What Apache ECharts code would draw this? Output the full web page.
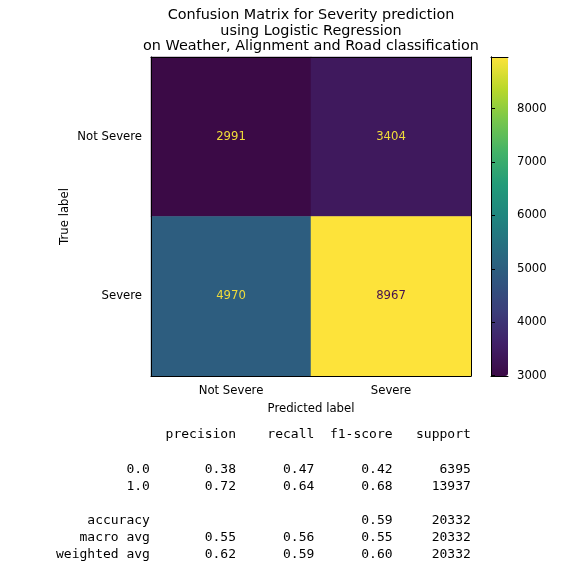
<!DOCTYPE html>
<html>
<head>
<meta charset="utf-8">
<script src="https://cdn.jsdelivr.net/npm/echarts@6/dist/echarts.min.js"></script>
<style>
html,body{margin:0;padding:0;background:#fff;}
#chart{width:566px;height:577px;}
</style>
</head>
<body>
<div id="chart"></div>
<script>
// ---- data ----
var predictedLabels = ['Not Severe', 'Severe'];
var trueLabels = ['Not Severe', 'Severe'];
var rowNotSevere = [2991, 3404];
var rowSevere = [4970, 8967];
var colorbarTicks = [3000, 4000, 5000, 6000, 7000, 8000];

var reportHeaders = ['precision', 'recall', 'f1-score', 'support'];
var reportClasses = ['0.0', '1.0'];
var reportPrecision = [0.38, 0.72];
var reportRecall = [0.47, 0.64];
var reportF1 = [0.42, 0.68];
var reportSupport = [6395, 13937];
var reportAccuracy = 0.59;
var reportTotal = 20332;
var macroAvg = [0.55, 0.56, 0.55];
var weightedAvg = [0.62, 0.59, 0.60];

var titleLines = ['Confusion Matrix for Severity prediction', 'using Logistic Regression', 'on Weather, Alignment and Road classification'];

// ---- build ----
var matrix = [rowNotSevere, rowSevere];
var all = rowNotSevere.concat(rowSevere);
var vmin = Math.min.apply(null, all), vmax = Math.max.apply(null, all);
var thresh = (vmin + vmax) / 2;
var viridis = ['#3b0a46','#412068','#3b3d7a','#30567f','#276d80','#1f857f','#229b79','#42b268','#76c64c','#b9d82a','#fde33a'];

var heatData = [];
for (var r = 0; r < matrix.length; r++) {
  for (var c = 0; c < matrix[r].length; c++) {
    var v = matrix[r][c];
    heatData.push({value: [c, r, v], label: {color: v < thresh ? '#f0dc3a' : '#44104f'}});
  }
}

function pad(s, n) { s = String(s); while (s.length < n) s = ' ' + s; return s; }
var W = 12;
var lines = [];
lines.push(pad('', W) + ' ' + reportHeaders.map(function(h){return ' ' + pad(h, 9);}).join(''));
lines.push('');
for (var i = 0; i < reportClasses.length; i++) {
  lines.push(pad(reportClasses[i], W) + ' ' +
    ' ' + pad(reportPrecision[i].toFixed(2), 9) +
    ' ' + pad(reportRecall[i].toFixed(2), 9) +
    ' ' + pad(reportF1[i].toFixed(2), 9) +
    ' ' + pad(reportSupport[i], 9));
}
lines.push('');
lines.push(pad('accuracy', W) + ' ' + ' ' + pad('', 9) + ' ' + pad('', 9) + ' ' + pad(reportAccuracy.toFixed(2), 9) + ' ' + pad(reportTotal, 9));
lines.push(pad('macro avg', W) + ' ' + macroAvg.map(function(x){return ' ' + pad(x.toFixed(2), 9);}).join('') + ' ' + pad(reportTotal, 9));
lines.push(pad('weighted avg', W) + ' ' + weightedAvg.map(function(x){return ' ' + pad(x.toFixed(2), 9);}).join('') + ' ' + pad(reportTotal, 9));
var reportText = lines.join('\n');

var FONT = 'DejaVu Sans';
var FS = 11.7;

var chart = echarts.init(document.getElementById('chart'), null, {renderer: 'canvas'});
chart.setOption({
  animation: false,
  backgroundColor: '#fff',
  title: {
    text: titleLines.join('\n'),
    left: 311, top: 8, textAlign: 'center', padding: 0,
    textStyle: {fontFamily: FONT, fontSize: 14.4, fontWeight: 'normal', color: '#000', lineHeight: 15.4}
  },
  grid: [
    {left: 151, top: 57, width: 320, height: 319},
    {left: 491, top: 57, width: 17, height: 319}
  ],
  xAxis: [
    {type: 'category', gridIndex: 0, data: predictedLabels, position: 'bottom', z: 10,
     name: 'Predicted label', nameLocation: 'middle', nameGap: 27, nameMoveOverlap: false,
     nameTextStyle: {fontFamily: FONT, fontSize: FS, color: '#000'},
     axisLine: {lineStyle: {color: '#000', width: 1}},
     axisTick: {alignWithLabel: true, length: 4, lineStyle: {color: '#000'}},
     axisLabel: {fontFamily: FONT, fontSize: FS, color: '#000', margin: 8.5},
     splitLine: {show: false}},
    {type: 'category', gridIndex: 0, data: predictedLabels, position: 'top', z: 10,
     axisLine: {lineStyle: {color: '#000', width: 1}}, axisTick: {show: false}, axisLabel: {show: false}},
    {type: 'value', gridIndex: 1, min: 0, max: 1, position: 'bottom', z: 10,
     axisLine: {lineStyle: {color: '#000', width: 1}}, axisTick: {show: false}, axisLabel: {show: false}, splitLine: {show: false}},
    {type: 'value', gridIndex: 1, min: 0, max: 1, position: 'top', z: 10,
     axisLine: {lineStyle: {color: '#000', width: 1}}, axisTick: {show: false}, axisLabel: {show: false}, splitLine: {show: false}}
  ],
  yAxis: [
    {type: 'category', gridIndex: 0, data: trueLabels, inverse: true, position: 'left', z: 10,
     name: 'True label', nameLocation: 'middle', nameGap: 80, nameRotate: 90, nameMoveOverlap: false,
     nameTextStyle: {fontFamily: FONT, fontSize: FS, color: '#000'},
     axisLine: {lineStyle: {color: '#000', width: 1}},
     axisTick: {alignWithLabel: true, length: 4, lineStyle: {color: '#000'}},
     axisLabel: {fontFamily: FONT, fontSize: FS, color: '#000', margin: 9},
     splitLine: {show: false}},
    {type: 'category', gridIndex: 0, data: trueLabels, inverse: true, position: 'right', z: 10,
     axisLine: {lineStyle: {color: '#000', width: 1}}, axisTick: {show: false}, axisLabel: {show: false}},
    {type: 'value', gridIndex: 1, min: vmin, max: vmax, position: 'right', z: 10,
     axisLine: {show: true, lineStyle: {color: '#000', width: 1}},
     axisTick: {show: true, length: 4, lineStyle: {color: '#000'}, customValues: colorbarTicks},
     axisLabel: {fontFamily: FONT, fontSize: FS, color: '#000', margin: 9, customValues: colorbarTicks,
       formatter: function(v){ return String(v); }},
     splitLine: {show: false}},
    {type: 'value', gridIndex: 1, min: vmin, max: vmax, position: 'left', z: 10,
     axisLine: {show: true, lineStyle: {color: '#000', width: 1}}, axisTick: {show: false}, axisLabel: {show: false}, splitLine: {show: false}}
  ],
  visualMap: {
    type: 'continuous', min: vmin, max: vmax, seriesIndex: 0, calculable: false,
    left: 491, top: 57, itemWidth: 17, itemHeight: 319, padding: 0,
    orient: 'vertical', text: null, showLabel: false, hoverLink: false,
    inRange: {color: viridis}
  },
  graphic: [{
    type: 'text', left: 56, top: 426.5, z: 100,
    style: {text: reportText, fontFamily: 'DejaVu Sans Mono', fontSize: 13, lineHeight: 17.1, fill: '#000'}
  }],
  series: [{
    type: 'heatmap', xAxisIndex: 0, yAxisIndex: 0, data: heatData,
    label: {show: true, fontFamily: FONT, fontSize: FS,
      formatter: function(p){ return String(p.value[2]); }},
    emphasis: {disabled: true},
    itemStyle: {borderWidth: 0}
  }]
});
</script>
</body>
</html>
